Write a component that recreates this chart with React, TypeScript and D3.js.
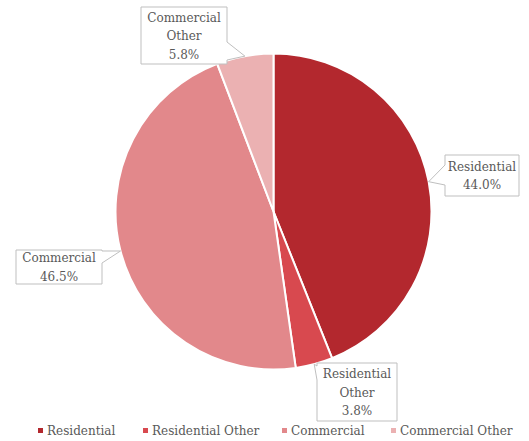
import React from "react";
import * as d3 from "d3";

const categories = ["Residential", "Residential Other", "Commercial", "Commercial Other"];
const values = [44.0, 3.8, 46.5, 5.8];
const labelLines = [["Residential"], ["Residential", "Other"], ["Commercial"], ["Commercial", "Other"]];
const colors = ["#B3282E", "#D8494F", "#E2888B", "#EBB1B2"];

// callout box layout: [x, y, w, h, side, wedge base start, wedge base end]
const boxes: [number, number, number, number, string, number, number][] = [
  [445, 155, 74, 41, "left", 165, 185],
  [317, 363, 80, 58, "left", 366, 380],
  [16, 250, 86, 34, "right", 251, 263],
  [141, 7, 86, 57, "right", 42, 60],
];

const W = 529, H = 441;
const cx = 273.5, cy = 211.5, R = 158;
const FONT = "DejaVu Serif, Liberation Serif, serif";
const TEXT = "#595959";

export default function App() {
  const pie = d3.pie<number>().sort(null).value((d) => d)(values);
  const arc = d3.arc<d3.PieArcDatum<number>>().innerRadius(0).outerRadius(R);
  const legendX = [38, 143, 282, 391];

  return (
    <svg width={W} height={H} style={{ position: "absolute", left: 0, top: 0, background: "#fff" }}>
      <g transform={`translate(${cx},${cy})`}>
        {pie.map((p, i) => (
          <path key={i} d={arc(p) || ""} fill={colors[i]} stroke="#fff" strokeWidth={2} strokeLinejoin="round" />
        ))}
      </g>
      {pie.map((p, i) => {
        const mid = (p.startAngle + p.endAngle) / 2;
        const tx = cx + R * Math.sin(mid);
        const ty = cy - R * Math.cos(mid);
        const [bx, by, bw, bh, side, w0, w1] = boxes[i];
        let d: string;
        if (side === "left") {
          d = `M${bx},${by} H${bx + bw} V${by + bh} H${bx} V${w1} L${tx},${ty} L${bx},${w0} Z`;
        } else {
          d = `M${bx},${by} H${bx + bw} V${w0} L${tx},${ty} L${bx + bw},${w1} V${by + bh} H${bx} Z`;
        }
        const lines = [...labelLines[i], `${values[i].toFixed(1)}%`];
        const lh = 18.5;
        const startY = by + bh / 2 - ((lines.length - 1) * lh) / 2 + 4.5;
        return (
          <g key={i}>
            <path d={d} fill="#fff" stroke="#BFBFBF" strokeWidth={1} />
            {lines.map((t, j) => (
              <text key={j} x={bx + bw / 2} y={startY + j * lh} textAnchor="middle" style={{ fontFamily: FONT, fontSize: 12 }} fill={TEXT}>
                {t}
              </text>
            ))}
          </g>
        );
      })}
      {categories.map((c, i) => (
        <g key={c}>
          <rect x={legendX[i]} y={428} width={5} height={5} fill={colors[i]} />
          <text x={legendX[i] + 9} y={435} style={{ fontFamily: FONT, fontSize: 12 }} fill={TEXT}>
            {c}
          </text>
        </g>
      ))}
    </svg>
  );
}
